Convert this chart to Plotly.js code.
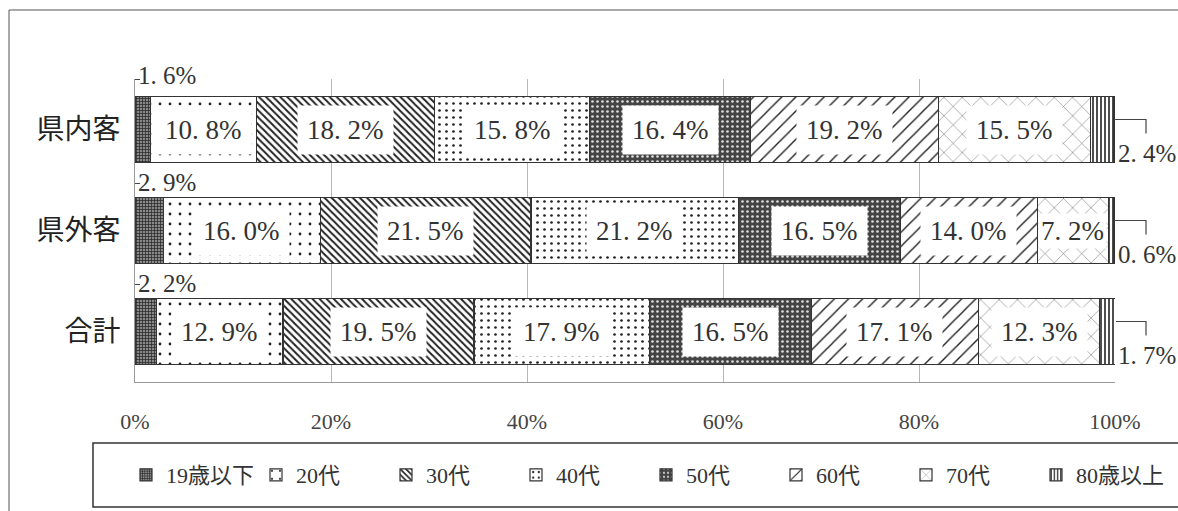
<!DOCTYPE html>
<html><head><meta charset="utf-8">
<script src="https://cdn.plot.ly/plotly-3.0.1.min.js"></script>
<style>body{margin:0;background:#fff}#chart{width:1178px;height:511px}</style>
</head><body><div id="chart"></div>
<script>
const categories = ['県内客','県外客','合計'];
const seriesNames = ['19歳以下','20代','30代','40代','50代','60代','70代','80歳以上'];
const age19 = [1.6, 2.9, 2.2];
const age20 = [10.8, 16.0, 12.9];
const age30 = [18.2, 21.5, 19.5];
const age40 = [15.8, 21.2, 17.9];
const age50 = [16.4, 16.5, 16.5];
const age60 = [19.2, 14.0, 17.1];
const age70 = [15.5, 7.2, 12.3];
const age80 = [2.4, 0.6, 1.7];
const tickVals = [0,20,40,60,80,100];
const tickText = ['0%','20%','40%','60%','80%','100%'];

const series = [age19, age20, age30, age40, age50, age60, age70, age80];
const patterns = [
  {shape:'+', bgcolor:'#888', fgcolor:'#222', size:3, solidity:0.4},
  {shape:'.', bgcolor:'#fff', fgcolor:'#222', size:10, solidity:0.06},
  {shape:'\\', bgcolor:'#fff', fgcolor:'#222', size:5, solidity:0.4},
  {shape:'.', bgcolor:'#fff', fgcolor:'#222', size:7, solidity:0.12},
  {shape:'.', bgcolor:'#444', fgcolor:'#ddd', size:5, solidity:0.22},
  {shape:'/', bgcolor:'#fff', fgcolor:'#222', size:10, solidity:0.14},
  {shape:'x', bgcolor:'#fff', fgcolor:'#555', size:13, solidity:0.07},
  {shape:'|', bgcolor:'#fff', fgcolor:'#222', size:4, solidity:0.4}
];

const W = 1178, H = 511, mL = 135, mR = 63, mT = 79, mB = 129;
const plotW = W - mL - mR, plotH = H - mT - mB;
const numFont = 'Liberation Serif, DejaVu Serif, Noto Sans CJK JP, serif';
const cjkFont = 'Noto Sans CJK JP, Liberation Serif, serif';
const fmt = v => v.toFixed(1).replace('.', '. ') + '%';

const traces = series.map((vals, i) => ({
  type: 'bar', orientation: 'h', name: seriesNames[i],
  x: vals, y: categories,
  marker: {color: patterns[i].bgcolor, pattern: Object.assign({fillmode:'replace'}, patterns[i]),
           line: {color: '#333', width: 1.2}},
  hoverinfo: 'skip'
}));

const annotations = [];
const shapes = [];
const catY = j => 1 - (j + 0.5) / categories.length;
categories.forEach((cat, j) => {
  let cum = 0;
  series.forEach((vals, i) => {
    const v = vals[j];
    const mid = cum + v / 2;
    if (v >= 5) {
      annotations.push({x: mid, y: cat, xref:'x', yref:'y', text: fmt(v), showarrow:false,
        bgcolor:'#fff', borderpad: v < 10 ? 2 : 9,
        font:{family:numFont, size:27, color:'#333'}});
    } else if (i === 0) {
      const dy = j === 0 ? 54 : 48;
      annotations.push({x: 0, y: catY(j), xref:'paper', yref:'paper', xanchor:'left', yanchor:'middle',
        xshift: 1, yshift: dy, text: fmt(v), showarrow:false,
        font:{family:numFont, size:25, color:'#333'}});
      const yy = catY(j) + (j === 0 ? 50 : 47) / plotH;
      shapes.push({type:'line', xref:'paper', yref:'paper', x0: 0, x1: 5 / plotW, y0: yy, y1: yy,
        line:{color:'#444', width:1}});
    } else {
      const end = (cum + v) / 100;
      const yc = catY(j);
      const y1 = yc + 10 / plotH, y2 = yc - 4 / plotH;
      const x2 = 1 + 31 / plotW;
      shapes.push({type:'path', xref:'paper', yref:'paper',
        path: `M${end},${y1} L${x2},${y1} L${x2},${y2}`, line:{color:'#444', width:1.2}});
      annotations.push({x: 1, y: yc, xref:'paper', yref:'paper', xanchor:'left', yanchor:'middle',
        xshift: 1, yshift: -24, text: fmt(v), showarrow:false,
        font:{family:numFont, size:25, color:'#333'}});
    }
    cum += v;
  });
});

// legend box and outer frame
shapes.push({type:'rect', xref:'paper', yref:'paper', x0:(93-mL)/plotW, x1:(W+20-mL)/plotW,
  y0:(mT+plotH-507)/plotH, y1:(mT+plotH-443)/plotH, line:{color:'#333', width:1.5}});
shapes.push({type:'path', xref:'paper', yref:'paper',
  path:`M${(9-mL)/plotW},${(mT+plotH-H-5)/plotH} L${(9-mL)/plotW},${(mT+plotH-10)/plotH} L${(W+20-mL)/plotW},${(mT+plotH-10)/plotH}`,
  line:{color:'#555', width:1}});

const layout = {
  width: W, height: H,
  margin: {l: mL, r: mR, t: mT, b: mB},
  paper_bgcolor: '#fff', plot_bgcolor: '#fff',
  barmode: 'stack', bargap: 0.34,
  showlegend: true,
  legend: {orientation:'h', x:(126-mL)/plotW, xanchor:'left', y:(mT+plotH-475)/plotH, yanchor:'middle',
           entrywidth: 85, entrywidthmode:'pixels', itemwidth: 30,
           font:{family:numFont, size:22, color:'#333'}, traceorder:'normal', itemclick:false},
  xaxis: {range:[0,100], tickvals: tickVals, ticktext: tickText, showgrid:true, gridcolor:'#b8b8b8', gridwidth:1,
          zeroline:false, showline:true, linecolor:'#999', linewidth:1, ticks:'', ticklabelstandoff: 20,
          tickfont:{family:numFont, size:22, color:'#444'}, fixedrange:true},
  yaxis: {autorange:'reversed', showgrid:false, zeroline:false, showline:true, linecolor:'#999', linewidth:1,
          ticks:'', ticklabelstandoff: 8, tickfont:{family:cjkFont, size:28, color:'#222'}, fixedrange:true},
  annotations: annotations,
  shapes: shapes
};

Plotly.newPlot('chart', traces, layout, {displayModeBar:false, staticPlot:true});
</script>
</body></html>
